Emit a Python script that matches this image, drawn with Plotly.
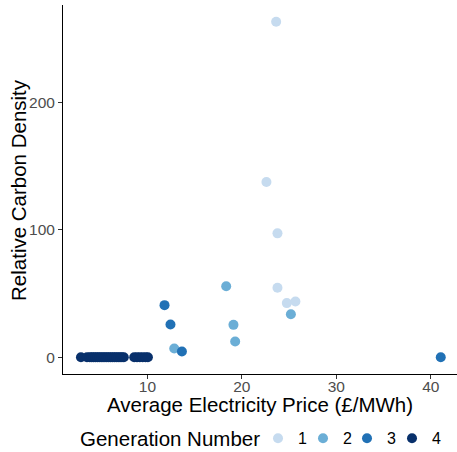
import plotly.graph_objects as go

# Data
gen1_x = [23.63, 22.6, 23.77, 23.77, 24.76, 25.67]
gen1_y = [263.5, 137.6, 97.3, 54.5, 42.5, 43.8]

gen2_x = [18.34, 25.19, 19.11, 19.29, 12.84]
gen2_y = [55.8, 33.8, 25.4, 12.3, 6.8]

gen3_x = [11.81, 12.44, 13.65, 41.06]
gen3_y = [40.9, 25.7, 4.5, 0.0]

gen4_x = [2.96, 3.6, 3.9, 4.1, 4.3, 4.5, 4.7, 4.9, 5.1, 5.3, 5.5, 5.7, 5.9,
          6.1, 6.3, 6.5, 6.7, 6.9, 7.1, 7.3, 7.5, 8.6, 8.9, 9.2, 9.5, 9.8, 10.05]
gen4_y = [0.0] * len(gen4_x)

generation_labels = ["1", "2", "3", "4"]
series_x = [gen1_x, gen2_x, gen3_x, gen4_x]
series_y = [gen1_y, gen2_y, gen3_y, gen4_y]
colors = ["#c6dbef", "#6baed6", "#2171b5", "#08306b"]

W, H = 457, 452
ML, MR, MT, MB = 63, 0, 5, 78
PW, PH = W - ML - MR, H - MT - MB

legend_ids = ["legend", "legend2", "legend3", "legend4"]
legend_px = [279, 324, 368, 413]   # symbol centres in pixels
LEG_Y = 438.3

fig = go.Figure()
for i, name in enumerate(generation_labels):
    fig.add_trace(go.Scatter(
        x=series_x[i], y=series_y[i], mode="markers", name=name,
        marker=dict(color=colors[i], size=10, line=dict(width=0)),
        legend=legend_ids[i],
    ))

font_family = "Liberation Sans, Arial, sans-serif"

layout_legends = {}
for i, lid in enumerate(legend_ids):
    layout_legends[lid] = dict(
        orientation="h", yanchor="middle", y=-(LEG_Y - (MT + PH)) / PH,
        xanchor="left", x=(legend_px[i] - 21 - ML) / PW,
        font=dict(size=16, color="black"), itemwidth=30,
        bgcolor="rgba(0,0,0,0)", borderwidth=0,
    )

fig.update_layout(
    width=W, height=H,
    margin=dict(l=ML, r=MR, t=MT, b=MB, autoexpand=False),
    paper_bgcolor="white", plot_bgcolor="white",
    font=dict(family=font_family, color="black"),
    showlegend=True,
    annotations=[
        dict(text="Average Electricity Price (£/MWh)", xref="paper", yref="paper",
             x=0.5, y=-0.084, xanchor="center", yanchor="middle", showarrow=False,
             font=dict(size=20.5, color="black")),
        dict(text="Relative Carbon Density", xref="paper", yref="paper",
             x=-0.113, y=0.5, xanchor="center", yanchor="middle", showarrow=False,
             textangle=-90, font=dict(size=20.5, color="black")),
        dict(text="Generation Number", xref="paper", yref="paper",
             x=(262 - ML) / PW, y=-(LEG_Y - (MT + PH)) / PH,
             xanchor="right", yanchor="middle", showarrow=False,
             font=dict(size=20.5, color="black")),
    ],
    **layout_legends,
)

fig.update_xaxes(
    range=[1.06, 42.78],
    tickvals=[10, 20, 30, 40],
    showgrid=False, zeroline=False, automargin=False,
    showline=True, linecolor="black", linewidth=1,
    ticks="outside", ticklen=4, tickcolor="#333333",
    tickfont=dict(size=15.5, color="#4d4d4d"),
    ticklabelstandoff=-6,
)
fig.update_yaxes(
    range=[-13.2, 276.7],
    tickvals=[0, 100, 200],
    showgrid=False, zeroline=False, automargin=False,
    showline=True, linecolor="black", linewidth=1,
    ticks="outside", ticklen=4, tickcolor="#333333",
    tickfont=dict(size=15.5, color="#4d4d4d"),
)

fig.write_html("out.html", config={"displayModeBar": False},
               post_script="document.body.style.margin='0';document.body.style.padding='0';")
